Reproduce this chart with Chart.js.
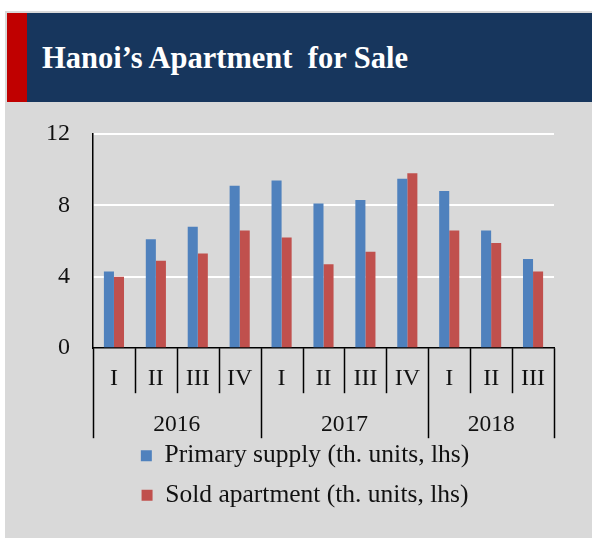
<!DOCTYPE html>
<html>
<head>
<meta charset="utf-8">
<title>Hanoi's Apartment for Sale</title>
<script src="https://cdn.jsdelivr.net/npm/chart.js@4"></script>
<style>
    body { margin: 0; background: #fff; }
    .panel {
        position: absolute; left: 5px; top: 11px;
        width: 587px; height: 527px;
        background: #d9d9d9;
    }
    .header {
        position: absolute; left: 2px; top: 2px; right: 0;
        height: 89px;
        background: #17365d;
        border-left: 20px solid #c00000;
    }
    .header h1 {
        margin: 0;
        position: absolute; left: 15px; top: 28px;
        font: bold 30.5px "Liberation Serif", serif;
        color: #fff;
        white-space: pre;
    }
    .chart-box {
        position: absolute; left: 0; top: 91px;
        width: 587px; height: 436px;
    }
</style>
</head>
<body>
<div class="panel">
    <div class="header"><h1>Hanoi’s Apartment  for Sale</h1></div>
    <div class="chart-box"><canvas id="saleChart"></canvas></div>
</div>

<script>
// Quarterly data, thousand units
const quarters = ['I', 'II', 'III', 'IV', 'I', 'II', 'III', 'IV', 'I', 'II', 'III'];
const years = ['2016', '2017', '2018'];
const quartersPerYear = [4, 4, 3];
const primarySupply = [4.3, 6.1, 6.8, 9.1, 9.4, 8.1, 8.3, 9.5, 8.8, 6.6, 5.0];
const soldApartment = [4.0, 4.9, 5.3, 6.6, 6.2, 4.7, 5.4, 9.8, 6.6, 5.9, 4.3];
const yTicks = [0, 4, 8, 12];

const FONT = 'Liberation Serif';
const TEXT = '#111';

// Draws the quarter/year separators and the year row under the x axis
const yearAxisPlugin = {
    id: 'yearAxis',
    afterLayout(chart) {
        // nudge the legend so it sits under the middle of the plot
        chart.legend.left += 23;
        chart.legend.right += 23;
    },
    afterDraw(chart) {
        const ctx = chart.ctx;
        const x = chart.scales.x;
        const base = x.top;
        const half = (x.getPixelForValue(1) - x.getPixelForValue(0)) / 2;
        const edge = i => i < quarters.length
            ? x.getPixelForValue(i) - half
            : x.getPixelForValue(quarters.length - 1) + half;

        // which boundaries start a new year
        const yearStarts = [0];
        quartersPerYear.forEach(n => yearStarts.push(yearStarts[yearStarts.length - 1] + n));

        ctx.save();
        ctx.strokeStyle = '#000';
        ctx.lineWidth = 1.5;
        for (let i = 0; i <= quarters.length; i++) {
            const px = Math.round(edge(i)) + 0.5;
            const len = yearStarts.includes(i) ? 90 : 45;
            ctx.beginPath();
            ctx.moveTo(px, base);
            ctx.lineTo(px, base + len);
            ctx.stroke();
        }

        ctx.fillStyle = TEXT;
        ctx.font = `23.5px "${FONT}"`;
        ctx.textAlign = 'center';
        ctx.textBaseline = 'middle';
        years.forEach((year, k) => {
            const mid = (edge(yearStarts[k]) + edge(yearStarts[k + 1])) / 2;
            ctx.fillText(year, mid, base + 77);
        });
        ctx.restore();
    }
};

new Chart(document.getElementById('saleChart'), {
    type: 'bar',
    data: {
        labels: quarters,
        datasets: [
            {
                label: 'Primary supply (th. units, lhs)',
                data: primarySupply,
                backgroundColor: '#4f81bd'
            },
            {
                label: 'Sold apartment (th. units, lhs)',
                data: soldApartment,
                backgroundColor: '#c0504d'
            }
        ]
    },
    options: {
        responsive: true,
        maintainAspectRatio: false,
        animation: false,
        layout: {
            padding: { top: 32, left: 5, right: 38, bottom: 20 }
        },
        datasets: {
            bar: { categoryPercentage: 0.48, barPercentage: 1.0 }
        },
        plugins: {
            title: { display: false },
            tooltip: { enabled: false },
            legend: {
                position: 'bottom',
                labels: {
                    boxWidth: 11,
                    boxHeight: 11,
                    padding: 14,
                    color: TEXT,
                    font: { family: FONT, size: 25.5 }
                }
            }
        },
        scales: {
            x: {
                grid: { display: true, offset: true, drawOnChartArea: false, drawTicks: false },
                border: { display: true, color: '#000', width: 1.5 },
                ticks: {
                    color: TEXT,
                    padding: 16,
                    maxRotation: 0,
                    font: { family: FONT, size: 24 }
                },
                afterFit(scale) {
                    scale.height += 20;
                }
            },
            y: {
                min: 0,
                max: 12,
                afterBuildTicks(scale) {
                    scale.ticks = yTicks.map(v => ({ value: v }));
                },
                grid: {
                    // invisible tick marks keep the labels clear of the axis
                    drawTicks: true,
                    tickLength: 23,
                    tickColor: 'rgba(0,0,0,0)',
                    lineWidth: 2,
                    color: ctx => ctx.tick && ctx.tick.value === 0 ? 'rgba(0,0,0,0)' : '#ffffff'
                },
                border: { display: true, color: '#000', width: 1.5 },
                ticks: {
                    color: TEXT,
                    padding: 0,
                    font: { family: FONT, size: 24 }
                },
                afterFit(scale) {
                    scale.width = 83;
                }
            }
        }
    },
    plugins: [yearAxisPlugin]
});
</script>
</body>
</html>
